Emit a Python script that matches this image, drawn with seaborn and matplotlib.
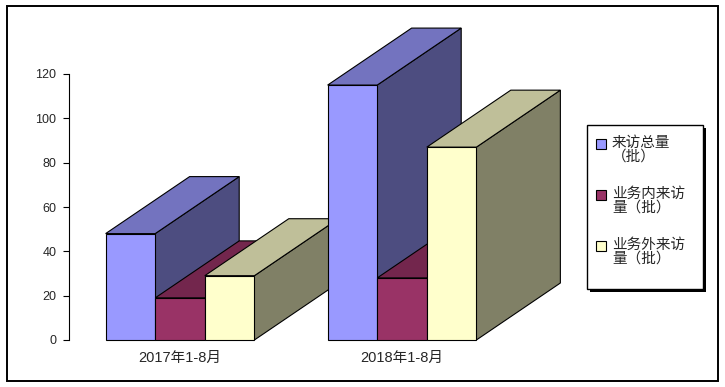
import matplotlib
matplotlib.use('Agg')
import matplotlib.pyplot as plt
from matplotlib.patches import Polygon, Rectangle
import seaborn as sns
import pandas as pd

# Data
periods = ['2017年1-8月', '2018年1-8月']
series = ['来访总量\n（批）', '业务内来访\n量（批）', '业务外来访\n量（批）']
total_visits = [48, 115]
internal_visits = [19, 28]
external_visits = [29, 87]
y_ticks = [0, 20, 40, 60, 80, 100, 120]

# Excel-style 3D shading: front, top, side
front_colors = ['#9999FF', '#993366', '#FFFFCC']
top_colors = ['#7373BF', '#73264D', '#BFBF99']
side_colors = ['#4D4D80', '#4D1A33', '#808066']

df = pd.DataFrame({
    'period': periods * 3,
    'series': [s for s in series for _ in periods],
    'value': total_visits + internal_visits + external_visits,
})

W, H = 725, 387
sns.set_style('white')
plt.rcParams['font.family'] = ['Liberation Sans', 'Noto Sans CJK SC', 'DejaVu Sans']


def fx(x):
    return x / W


def fy(y):
    return 1 - y / H


fig = plt.figure(figsize=(W / 100, H / 100), dpi=100)
# y scale: 0 at 340px, 120 at 74px
ax = fig.add_axes([fx(69), fy(340), 444 / W, 140 * (266 / 120) / H])

sns.barplot(data=df, x='period', y='value', hue='series', palette=front_colors,
            width=0.67, saturation=1, edgecolor='black', linewidth=0.8,
            legend=False, ax=ax)
ax.set_xlim(-0.5, 1.5)
ax.set_ylim(0, 140)

# depth of the 3D boxes (84px right, 57px up)
dx = 84 / 222
dy = 57 / (266 / 120)

bars = []
for i, cont in enumerate(ax.containers):
    for b in cont:
        bars.append((b.get_x(), i, b))
bars.sort(key=lambda t: t[0])

for k, (x0, i, b) in enumerate(bars):
    w, h = b.get_width(), b.get_height()
    x1 = x0 + w
    side = Polygon([(x1, 0), (x1 + dx, dy), (x1 + dx, h + dy), (x1, h)],
                   closed=True, facecolor=side_colors[i], edgecolor='black',
                   linewidth=0.8, zorder=2 + 2 * k, clip_on=False)
    top = Polygon([(x0, h), (x0 + dx, h + dy), (x1 + dx, h + dy), (x1, h)],
                  closed=True, facecolor=top_colors[i], edgecolor='black',
                  linewidth=0.8, zorder=2 + 2 * k, clip_on=False)
    ax.add_patch(side)
    ax.add_patch(top)
    b.set_zorder(3 + 2 * k)
    b.set_clip_on(False)

for s in ['top', 'right', 'bottom']:
    ax.spines[s].set_visible(False)
ax.spines['left'].set_bounds(0, 120)
ax.spines['left'].set_linewidth(0.8)
ax.spines['left'].set_color('black')
ax.set_yticks(y_ticks)
ax.tick_params(axis='y', left=True, length=4, width=0.8, color='black',
               pad=5, labelsize=9)
ax.tick_params(axis='x', length=0, pad=8, labelsize=10.5)
ax.set_xlabel('')
ax.set_ylabel('')
ax.patch.set_alpha(0)

# outer chart border
fig.add_artist(Rectangle((fx(6.5), fy(380.5)), 711 / W, 375 / H, fill=False,
                         edgecolor='black', linewidth=1.4,
                         transform=fig.transFigure))

# legend box with shadow
lx0, ly0, lx1, ly1 = 587, 125, 703, 289
fig.add_artist(Rectangle((fx(lx0 + 3), fy(ly1 + 3)), (lx1 - lx0) / W, (ly1 - ly0) / H,
                         facecolor='black', edgecolor='none',
                         transform=fig.transFigure, zorder=5))
fig.add_artist(Rectangle((fx(lx0), fy(ly1)), (lx1 - lx0) / W, (ly1 - ly0) / H,
                         facecolor='white', edgecolor='black', linewidth=1.0,
                         transform=fig.transFigure, zorder=6))
entry_y = [144, 195, 246]
for i, name in enumerate(series):
    yc = entry_y[i]
    fig.text(fx(612), fy(yc - 8), name, ha='left', va='top', fontsize=10.5,
             linespacing=1.0, family=['Noto Sans CJK SC', 'DejaVu Sans'],
             zorder=7)
    fig.add_artist(Rectangle((fx(596), fy(yc + 5)), 10 / W, 10 / H,
                             facecolor=front_colors[i], edgecolor='black',
                             linewidth=0.8, transform=fig.transFigure, zorder=7))

fig.savefig('out.png', dpi=100)
